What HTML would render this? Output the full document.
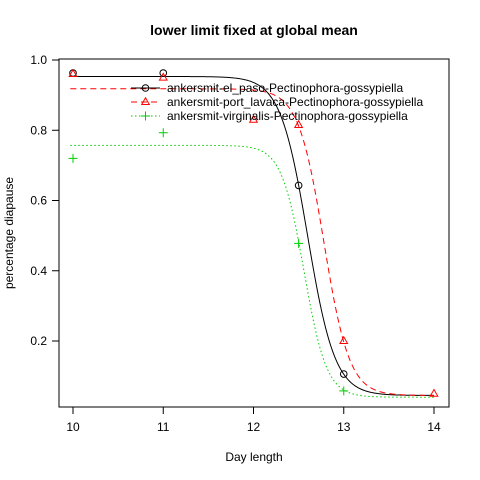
<!DOCTYPE html>
<html><head><meta charset="utf-8"><style>
body{margin:0;background:#fff}
svg{display:block;font-family:"Liberation Sans",sans-serif}
</style></head><body>
<svg id="chart" width="480" height="480">
<rect x="0" y="0" width="480" height="480" fill="#fff"/>
<text x="254" y="35" text-anchor="middle" font-size="14" font-weight="bold">lower limit fixed at global mean</text>
<rect x="59" y="59" width="390" height="348" fill="none" stroke="#000"/>
<text x="254" y="461" text-anchor="middle" font-size="12">Day length</text>
<text transform="translate(13,233) rotate(-90)" text-anchor="middle" font-size="12">percentage diapause</text>
<g id="axes"></g><g id="curves"></g><g id="points"></g><g id="legend"></g>
</svg>
<script>
const xTicks=[10,11,12,13,14];
const yTicks=[0.2,0.4,0.6,0.8,1.0];
const yTickLabels=["0.2","0.4","0.6","0.8","1.0"];
const seriesNames=["ankersmit-el_paso-Pectinophora-gossypiella","ankersmit-port_lavaca-Pectinophora-gossypiella","ankersmit-virginalis-Pectinophora-gossypiella"];
const blackX=[10,11,12.5,13];
const blackY=[0.963,0.963,0.643,0.106];
const redX=[10,11,12,12.5,13,14];
const redY=[0.960,0.950,0.83,0.815,0.20,0.05];
const greenX=[10,11,12.5,13];
const greenY=[0.72,0.793,0.478,0.058];
const upperVals=[0.953,0.918,0.757];
const lowerVals=[0.045,0.045,0.04];
const midVals=[12.6,12.78,12.56];
const slopeVals=[6.6,7.06,8.0];
const colors=["#000","#ff0000","#00cd00"];
const dashes=["","6,4","1.5,2.5"];
const NS="http://www.w3.org/2000/svg";
const sx=v=>73+(v-10)*90.25;
const sy=v=>411.25-v*351.25;
function mk(tag,attrs,parent){const e=document.createElementNS(NS,tag);for(const k in attrs)e.setAttribute(k,attrs[k]);parent.appendChild(e);return e;}
const axes=document.getElementById('axes');
xTicks.forEach(t=>{
 const l=mk('line',{x1:sx(t),x2:sx(t),y1:407,y2:414,stroke:'#000'},axes);
 
 
 const tx=mk('text',{x:sx(t),y:431,'text-anchor':'middle','font-size':12},axes);
 tx.textContent=t;
 
 
});
yTicks.forEach((t,i)=>{
 const l=mk('line',{x1:52,x2:59,y1:sy(t),y2:sy(t),stroke:'#000'},axes);
 
 
 const tx=mk('text',{x:47,y:sy(t)+4,'text-anchor':'end','font-size':12},axes);
 tx.textContent=yTickLabels[i];
 
 
});
const curves=document.getElementById('curves');
for(let s=0;s<3;s++){
 let d='';
 for(let i=0;i<=400;i++){const x=9.97+i*(14.0-9.97)/400;const y=lowerVals[s]+(upperVals[s]-lowerVals[s])/(1+Math.exp(slopeVals[s]*(x-midVals[s])));d+=(i?'L':'M')+sx(x).toFixed(2)+','+sy(y).toFixed(2);}
 const p=mk('path',{d:d,fill:'none',stroke:colors[s],'stroke-width':1,'stroke-dasharray':dashes[s]},curves);
 
 
}
const pts=document.getElementById('points');
function marker(s,cx,cy,g){
 let e;
 if(s===0){e=mk('circle',{cx:cx,cy:cy,r:3.3,fill:'none',stroke:colors[0]},g);}
 else if(s===1){e=mk('path',{d:`M${cx},${cy-4.2}L${cx+3.8},${cy+2.5}L${cx-3.8},${cy+2.5}Z`,fill:'none',stroke:colors[1]},g);}
 else{e=mk('path',{d:`M${cx-4.5},${cy}H${cx+4.5}M${cx},${cy-4.5}V${cy+4.5}`,stroke:colors[2]},g);}
 return e;
}
[[blackX,blackY],[redX,redY],[greenX,greenY]].forEach((sr,s)=>{
 sr[0].forEach((x,i)=>{
  const m=marker(s,sx(x),sy(sr[1][i]),pts);
  
  
 });
});
const lg=document.getElementById('legend');
seriesNames.forEach((n,s)=>{
 const y=88+s*14;
 const l=mk('line',{x1:131,x2:160,y1:y,y2:y,stroke:colors[s],'stroke-dasharray':dashes[s]},lg);
 
 
 const m=marker(s,145.5,y,lg);
 
 
 const t=mk('text',{x:167,y:y+4,'font-size':12},lg);
 t.textContent=n;
 
 
});
</script>
</body></html>
